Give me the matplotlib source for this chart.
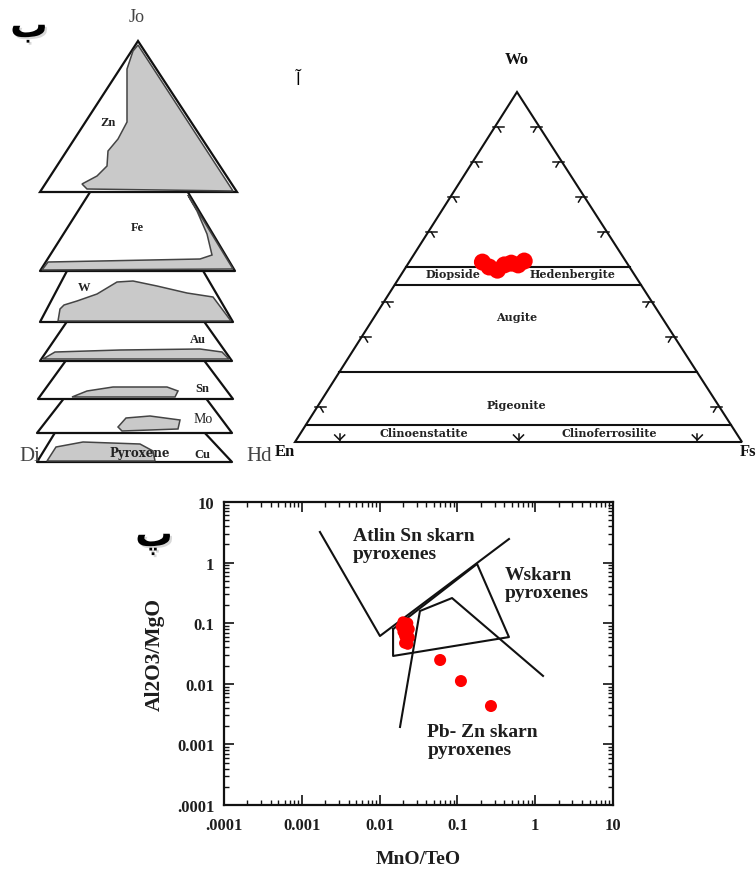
import matplotlib
matplotlib.use("Agg")
import matplotlib.pyplot as plt
import matplotlib.patheffects as pe
from matplotlib.patches import Polygon
from matplotlib.ticker import LogLocator, NullFormatter

# ---------------- data ----------------
# Bottom chart (پ): MnO/FeO vs Al2O3/MgO
cluster_mno = [0.020, 0.023, 0.019, 0.022, 0.024, 0.020, 0.023, 0.021, 0.024, 0.022, 0.021, 0.023]
cluster_al = [0.105, 0.100, 0.088, 0.085, 0.080, 0.072, 0.068, 0.062, 0.058, 0.052, 0.047, 0.045]
outlier_mno = [0.060, 0.111, 0.270]
outlier_al = [0.0247, 0.0111, 0.0043]

atlin_x = [0.00171, 0.0101, 0.46]
atlin_y = [3.2, 0.0615, 2.45]
wskarn_x = [0.0149, 0.179, 0.46, 0.0149, 0.0149]
wskarn_y = [0.080, 0.95, 0.059, 0.0288, 0.080]
pbzn_x = [0.0183, 0.033, 0.0853, 1.26]
pbzn_y = [0.00194, 0.159, 0.26, 0.0135]

xtick_vals = [1e-4, 1e-3, 1e-2, 1e-1, 1, 10]
xtick_labels = [".0001", "0.001", "0.01", "0.1", "1", "10"]
ytick_vals = [1e-4, 1e-3, 1e-2, 1e-1, 1, 10]
ytick_labels = [".0001", "0.001", "0.01", "0.1", "1", "10"]

# Ternary (آ): Wo-En-Fs compositions (%)
tern_wo = [51.4, 50.0, 49.1, 50.6, 51.1, 50.6, 51.7]
tern_en = [32.2, 31.4, 30.0, 27.7, 25.9, 24.6, 22.7]
tern_fs = [100 - w - e for w, e in zip(tern_wo, tern_en)]
tern_lines_wo = [50, 45, 20, 5]
tern_tick_wo = [10, 30, 40, 60, 70, 80, 90]
tern_tick_fs = [10, 50, 90]

# Left stacked diagram (ب): slices (pixel sketch) and fields
slice_names = ["Cu", "Mo", "Sn", "Au", "W", "Fe"]
slice_polys = {
    "Cu": [(37, 463), (232, 463), (203, 432), (56, 432)],
    "Mo": [(37, 434), (232, 434), (205, 398), (65, 398)],
    "Sn": [(38, 400), (233, 400), (203, 360), (67, 360)],
    "Au": [(40, 362), (232, 362), (203, 321), (68, 321)],
    "W":  [(40, 323), (233, 323), (202, 270), (68, 270)],
    "Fe": [(40, 272), (235, 272), (186, 190), (92, 190)],
}
zn_triangle = [(138, 42), (40, 193), (237, 193)]
fields = {
    "Zn": [(133, 52), (127, 70), (127, 123), (118, 140), (108, 152), (107, 167),
           (97, 177), (82, 185), (87, 190), (233, 192), (138, 46)],
    "Fe": [(42, 271), (48, 263), (100, 262), (200, 260), (212, 256), (207, 235),
           (197, 212), (190, 200), (188, 196), (233, 270)],
    "W":  [(58, 322), (60, 310), (64, 306), (77, 302), (97, 295), (117, 283),
           (133, 282), (157, 287), (187, 294), (213, 298), (231, 322)],
    "Au": [(43, 360), (55, 353), (120, 351), (200, 350), (222, 353), (229, 360)],
    "Sn": [(72, 398), (87, 392), (113, 388), (167, 388), (178, 392), (175, 398)],
    "Mo": [(118, 428), (126, 419), (150, 417), (180, 421), (178, 430), (122, 432)],
    "Cu": [(47, 462), (56, 448), (83, 443), (140, 445), (153, 452), (155, 462)],
}
field_labels = {"Zn": (108, 123), "Fe": (137, 228), "W": (84, 288), "Au": (198, 340),
                "Sn": (202, 389), "Mo": (203, 420), "Cu": (202, 455)}

# ---------------- figure ----------------
W, H = 756, 870
fig = plt.figure(figsize=(W / 100, H / 100), dpi=100)
ov = fig.add_axes([0, 0, 1, 1])
ov.set_xlim(0, W)
ov.set_ylim(H, 0)
ov.axis("off")

serif = "Liberation Serif"
dserif = "DejaVu Serif"
arab = ["DejaVu Sans"]
shadow = [pe.SimplePatchShadow(offset=(1.5, -1.5), shadow_rgbFace="#d4d4d4", alpha=0.9),
          pe.Normal()]

# ---- left stacked diagram ----
z = 2
for name in slice_names:
    ov.add_patch(Polygon(slice_polys[name], closed=True, facecolor="white",
                         edgecolor="#111111", lw=1.6, zorder=z, joinstyle="round"))
    ov.add_patch(Polygon(fields[name], closed=True, facecolor="#c9c9c9",
                         edgecolor="#444444", lw=1.1, zorder=z + 0.5))
    z += 1
ov.add_patch(Polygon(zn_triangle, closed=True, facecolor="white",
                     edgecolor="#111111", lw=1.6, zorder=z))
ov.add_patch(Polygon(fields["Zn"], closed=True, facecolor="#c9c9c9",
                     edgecolor="#444444", lw=1.1, zorder=z + 0.5))
for name, (lx, ly) in field_labels.items():
    ov.text(lx, ly, name, ha="center", va="center", fontsize=9 if name != "Mo" else 10,
            fontweight="bold" if name != "Mo" else "normal", family=serif,
            color="#222222", zorder=20)
ov.text(137, 18, "Jo", ha="center", va="center", fontsize=13, family=serif, color="#444444")
ov.text(30, 457, "Di", ha="center", va="center", fontsize=15, family=serif, color="#444444")
ov.text(259, 457, "Hd", ha="center", va="center", fontsize=15, family=serif, color="#444444")
ov.text(140, 454, "Pyroxene", ha="center", va="center", fontsize=8.5, family=dserif,
        fontweight="bold", color="#222222")
ov.text(29, 28, "ب", ha="center", va="center", fontsize=27, family=arab, color="black",
        fontweight="bold", path_effects=shadow)

# ---- ternary ----
L = (295, 443)
R = (742, 443)
A = (517, 93)


def tpos(wo, en, fs):
    s = wo + en + fs
    wo, en, fs = wo / s, en / s, fs / s
    return (en * L[0] + fs * R[0] + wo * A[0], en * L[1] + fs * R[1] + wo * A[1])


ov.add_patch(Polygon([L, R, A], closed=True, facecolor="none", edgecolor="#111111",
                     lw=1.5, zorder=3))
for w in tern_lines_wo:
    p1 = tpos(w, 100 - w, 0)
    p2 = tpos(w, 0, 100 - w)
    ov.plot([p1[0], p2[0]], [p1[1], p2[1]], color="#111111", lw=1.5, zorder=3)
for w in tern_tick_wo:
    lx, ly = tpos(w, 100 - w, 0)
    ov.plot([lx - 2, lx + 9], [ly, ly], color="#111111", lw=1.1)
    ov.plot([lx + 3, lx + 6], [ly, ly + 5], color="#111111", lw=1.1)
    rx, ry = tpos(w, 0, 100 - w)
    ov.plot([rx + 2, rx - 9], [ry, ry], color="#111111", lw=1.1)
    ov.plot([rx - 3, rx - 6], [ry, ry + 5], color="#111111", lw=1.1)
for f in tern_tick_fs:
    bx, by = tpos(0, 100 - f, f)
    ov.plot([bx - 5, bx, bx + 5], [by - 7, by - 2, by - 7], color="#111111", lw=1.1)
    ov.plot([bx, bx], [by - 8, by], color="#111111", lw=1.1)

ov.text(517, 60, "Wo", ha="center", va="center", fontsize=12, family=serif,
        fontweight="bold", color="#111111")
ov.text(285, 452, "En", ha="center", va="center", fontsize=12, family=serif,
        fontweight="bold", color="#111111")
ov.text(740, 452, "Fs", ha="left", va="center", fontsize=12, family=serif,
        fontweight="bold", color="#111111")
small = dict(ha="center", va="center", fontsize=8, family=dserif, fontweight="bold",
             color="#222222", zorder=4)
ov.text(453, 275, "Diopside", **small)
ov.text(572, 275, "Hedenbergite", **small)
ov.text(517, 318, "Augite", **small)
ov.text(516, 406, "Pigeonite", **small)
ov.text(424, 434, "Clinoenstatite", **small)
ov.text(609, 434, "Clinoferrosilite", **small)
ov.text(298, 80, "آ", ha="center", va="center", fontsize=12, family=arab, color="black")

tp = [tpos(w, e, f) for w, e, f in zip(tern_wo, tern_en, tern_fs)]
ov.scatter([p[0] for p in tp], [p[1] for p in tp], s=150, color="#ff0000",
           edgecolors="none", zorder=6)

ov.text(154, 538, "پ", ha="center", va="center", fontsize=27, family=arab, color="black",
        fontweight="bold", path_effects=shadow)

# ---- bottom log-log chart ----
ax = fig.add_axes([224 / W, 1 - 806 / H, 389 / W, 303 / H])
ax.set_xscale("log")
ax.set_yscale("log")
ax.set_xlim(1e-4, 10)
ax.set_ylim(1e-4, 10)
ax.patch.set_alpha(0)

lc = "#111111"
ax.plot(atlin_x, atlin_y, color=lc, lw=1.5)
ax.plot(wskarn_x, wskarn_y, color=lc, lw=1.5)
ax.plot(pbzn_x, pbzn_y, color=lc, lw=1.5)
ax.scatter(cluster_mno, cluster_al, s=65, color="#ff0000", edgecolors="none", zorder=5)
ax.scatter(outlier_mno, outlier_al, s=75, color="#ff0000", edgecolors="none", zorder=5)

ann = dict(family=serif, fontweight="bold", fontsize=14, color="#1e1e1e",
           linespacing=1.08, ha="left", va="center")
ax.text(0.0045, 2.0, "Atlin Sn skarn\npyroxenes", **ann)
ax.text(0.41, 0.46, "Wskarn\npyroxenes", **ann)
ax.text(0.041, 0.00118, "Pb- Zn skarn\npyroxenes", **ann)

ax.set_xticks(xtick_vals, labels=xtick_labels)
ax.set_yticks(ytick_vals, labels=ytick_labels)
for a in (ax.xaxis, ax.yaxis):
    a.set_minor_locator(LogLocator(base=10, subs=range(2, 10), numticks=20))
    a.set_minor_formatter(NullFormatter())
ax.tick_params(which="both", direction="in", top=True, right=True, color=lc)
ax.tick_params(which="major", length=7, width=1.2)
ax.tick_params(which="minor", length=3.5, width=1.0)
ax.tick_params(axis="x", pad=9)
ax.tick_params(axis="y", pad=7)
for lab in ax.get_xticklabels() + ax.get_yticklabels():
    lab.set_family(serif)
    lab.set_fontweight("bold")
    lab.set_fontsize(12)
    lab.set_color("#1e1e1e")
for sp in ax.spines.values():
    sp.set_linewidth(1.6)
    sp.set_color(lc)
ax.set_xlabel("MnO/TeO", family=serif, fontweight="bold", fontsize=14,
              color="#1e1e1e", labelpad=12)
ax.set_ylabel("Al2O3/MgO", family=serif, fontweight="bold", fontsize=15.5,
              color="#1e1e1e", labelpad=9)

fig.savefig("out.png", dpi=100)
